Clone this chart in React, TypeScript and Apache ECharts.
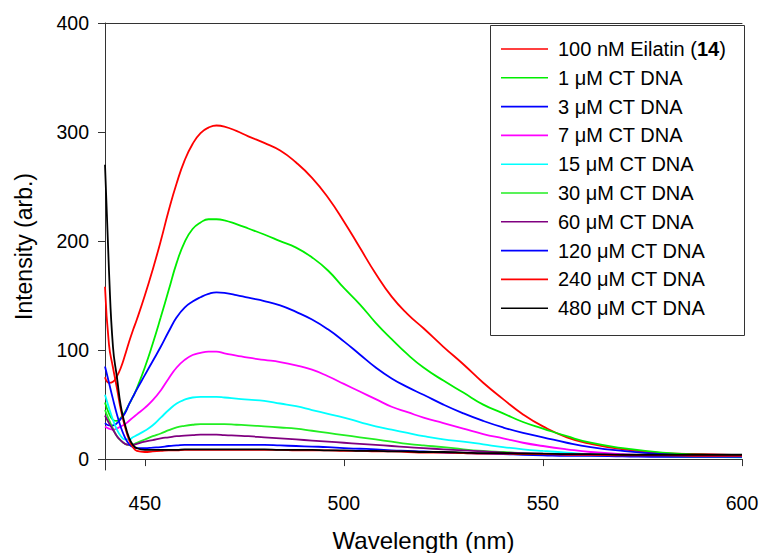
import React, { useEffect, useRef } from "react";
import * as echarts from "echarts";

const WAVELENGTHS = [440, 441, 442, 443, 444, 445, 446, 447, 448, 450, 452, 454, 456, 458, 460, 462, 464, 466, 468, 470, 473, 476, 480, 484, 488, 492, 496, 500, 504, 508, 512, 516, 520, 525, 530, 535, 540, 545, 550, 556, 562, 570, 580, 590, 600];

const EILATIN_100NM = [75, 70, 71, 76, 84, 95, 107, 118, 128, 150, 174, 200, 228, 253, 274, 289, 299, 304, 306, 305, 301, 296, 290, 283, 272, 258, 240, 218, 194, 170, 149, 133, 120, 103, 87, 70, 55, 41, 30, 20, 14, 9, 5.5, 4.5, 3.7];
const DNA_1 = [52, 42, 36, 35, 38, 43, 50, 57, 65, 84, 106, 130, 155, 180, 199, 211, 217, 220, 220, 219, 215.5, 211.5, 206, 200, 194, 185, 173, 157, 142, 125, 110, 96, 84, 72, 61, 50, 42, 34, 28, 21, 15, 10, 6, 4, 3];
const DNA_3 = [33, 31, 31, 33, 37, 42, 50, 57, 64, 77, 90, 103, 117, 130, 139, 144.5, 148.5, 151.5, 153, 152.5, 150.5, 148, 145, 141, 135, 128, 119, 108, 96, 84, 74, 66, 59, 50, 42, 35, 29, 24, 20, 15, 11, 7.5, 4.5, 3, 2];
const DNA_7 = [30, 28, 27, 28, 30, 32, 35, 38, 41, 47, 54, 63, 74, 84, 91, 95.5, 97.5, 98.5, 98.5, 97, 95, 93, 91, 89, 86, 82, 76, 69, 62, 55, 48, 43, 38, 33, 28, 23, 19, 15, 12, 9, 6.5, 4.5, 3, 2.5, 2];
const DNA_15 = [59, 47, 36, 27, 21, 18, 18, 20, 22, 26, 31, 38, 45, 51, 54.5, 56.5, 57, 57, 57, 56.5, 55.5, 54.5, 53.5, 51, 48.5, 45, 41.5, 38, 34, 30, 27, 24, 21, 18, 16, 13.5, 11, 9, 7.5, 6, 4.5, 3.5, 2.5, 2, 1.5];
const DNA_30 = [45, 36, 28, 21, 17, 14, 13, 13.5, 15, 18, 21, 23.5, 26.5, 29, 30.5, 31.5, 32, 32, 32, 32, 31.5, 31, 30, 29, 28, 26, 24, 22, 20, 18, 16, 14, 12.5, 11, 9, 7.5, 6.5, 5.5, 4.5, 4, 3.5, 3, 2.5, 2, 2];
const DNA_60 = [40, 33, 27, 21, 17, 14, 13, 13, 14, 16, 17.5, 19, 20, 21, 21.5, 22, 22.5, 22.5, 22.5, 22, 21.5, 21, 20, 19, 18, 17, 16, 15, 14, 13, 12, 11, 10, 9, 8, 7, 6, 5.5, 5, 4.5, 4, 3.5, 3, 3, 3];
const DNA_120 = [85, 70, 55, 41, 29, 20, 14, 11, 10, 10, 10.5, 11, 12, 12.5, 13, 13, 13, 13, 13, 13, 13, 13, 13, 12.5, 12, 11.5, 11, 10, 9.5, 9, 8, 7.5, 7, 6, 5.5, 5, 4.5, 4, 3.5, 3, 3, 2.5, 2, 2, 2];
const DNA_240 = [158, 105, 84, 65, 45, 30, 18, 11, 7.5, 6.5, 7, 7.5, 8, 8, 8.5, 8.5, 8.5, 8.5, 8.5, 8.5, 8.5, 8.5, 8.5, 8.5, 8, 8, 8, 7.5, 7.5, 7, 7, 6.5, 6, 6, 5.5, 5, 5, 4.5, 4.5, 4, 4, 3.5, 3.5, 3, 3];
const DNA_480 = [270, 173, 103, 75, 48, 32, 20, 13, 10, 8.5, 8.5, 8.5, 8.5, 8.5, 9, 9, 9, 9, 9, 9, 9, 9, 9, 8.5, 8.5, 8.5, 8, 8, 7.5, 7.5, 7, 7, 6.5, 6.5, 6, 5.5, 5.5, 5, 5, 4.5, 4.5, 4, 4, 4, 4];

const SERIES_NAMES = [
  "100 nM Eilatin (14)",
  "1 μM CT DNA",
  "3 μM CT DNA",
  "7 μM CT DNA",
  "15 μM CT DNA",
  "30 μM CT DNA",
  "60 μM CT DNA",
  "120 μM CT DNA",
  "240 μM CT DNA",
  "480 μM CT DNA",
];
const SERIES_VALUES = [EILATIN_100NM, DNA_1, DNA_3, DNA_7, DNA_15, DNA_30, DNA_60, DNA_120, DNA_240, DNA_480];
const SERIES_COLORS = ["#ff0000", "#00ee00", "#0000ff", "#ff00ff", "#00ffff", "#22ee22", "#800080", "#0000ff", "#ff0000", "#000000"];

const X_TICKS = [450, 500, 550, 600];
const Y_TICKS = [0, 100, 200, 300, 400];

const FONT = "'Liberation Sans', Arial, Helvetica, sans-serif";
const AXIS_COLOR = "#333";

export default function App() {
  const ref = useRef<HTMLDivElement>(null);
  useEffect(() => {
    if (!ref.current) return;
    const chart = echarts.init(ref.current, null, { renderer: "svg" });
    const series = SERIES_NAMES.map((name, i) => ({
      name,
      type: "line",
      xAxisIndex: 0,
      yAxisIndex: 0,
      data: WAVELENGTHS.map((w, j) => [w, SERIES_VALUES[i][j]]),
      symbol: "none",
      smooth: 0.5,
      lineStyle: { color: SERIES_COLORS[i], width: 1.8 },
      itemStyle: { color: SERIES_COLORS[i] },
      emphasis: { disabled: true },
    }));
    chart.setOption({
      animation: false,
      backgroundColor: "#ffffff",
      textStyle: { fontFamily: FONT },
      grid: { left: 105, right: 20, top: 23, bottom: 83, containLabel: false, outerBoundsMode: "none" },
      xAxis: [
        {
          type: "value",
          min: 440,
          max: 600,
          position: "bottom",
          axisLine: { show: true, lineStyle: { color: AXIS_COLOR, width: 1 } },
          axisTick: { show: true, length: 7, customValues: X_TICKS, lineStyle: { color: AXIS_COLOR } },
          axisLabel: { customValues: X_TICKS, color: "#000", fontSize: 19.5, fontFamily: FONT, margin: 23 },
          splitLine: { show: false },
          name: "Wavelength (nm)",
          nameLocation: "middle",
          nameGap: 58,
          nameTextStyle: { color: "#000", fontSize: 24, fontFamily: FONT },
        },
        {
          type: "value",
          min: 440,
          max: 600,
          position: "top",
          axisLine: { show: true, lineStyle: { color: AXIS_COLOR, width: 1 } },
          axisTick: { show: false },
          axisLabel: { show: false },
          splitLine: { show: false },
        },
      ],
      yAxis: {
        type: "value",
        min: -10,
        max: 400,
        axisLine: { show: true, lineStyle: { color: AXIS_COLOR, width: 1 } },
        axisTick: { show: true, length: 7, customValues: Y_TICKS, lineStyle: { color: AXIS_COLOR } },
        axisLabel: { customValues: Y_TICKS, color: "#000", fontSize: 19.5, fontFamily: FONT, margin: 16 },
        splitLine: { show: false },
        name: "Intensity (arb.)",
        nameLocation: "middle",
        nameRotate: 90,
        nameGap: 70,
        nameTextStyle: { color: "#000", fontSize: 23, fontFamily: FONT },
      },
      legend: {
        show: true,
        orient: "vertical",
        left: 501,
        top: 39,
        padding: 0,
        itemWidth: 47,
        itemHeight: 1.6,
        itemGap: 8.8,
        icon: "rect",
        selectedMode: false,
        data: SERIES_NAMES,
        formatter: (name: string) =>
          name === SERIES_NAMES[0] ? "{t|100 nM Eilatin (}{b|14}{t|)}" : "{t|" + name + "}",
        textStyle: {
          color: "#000",
          fontSize: 20,
          fontFamily: FONT,
          padding: [0, 0, 0, 5],
          lineHeight: 20,
          rich: {
            t: { color: "#000", fontSize: 20, fontFamily: FONT, lineHeight: 20 },
            b: { color: "#000", fontSize: 20, fontFamily: FONT, fontWeight: "bold", lineHeight: 20 },
          },
        },
      },
      graphic: [
        {
          type: "rect",
          left: 488,
          top: 23,
          shape: { x: 0, y: 0, width: 254, height: 310 },
          style: { fill: "none", stroke: AXIS_COLOR, lineWidth: 1 },
          silent: true,
          z: 10,
        },
      ],
      series,
    });
    return () => chart.dispose();
  }, []);
  return <div ref={ref} style={{ width: 762, height: 553, position: "absolute", left: 0, top: 0 }} />;
}
